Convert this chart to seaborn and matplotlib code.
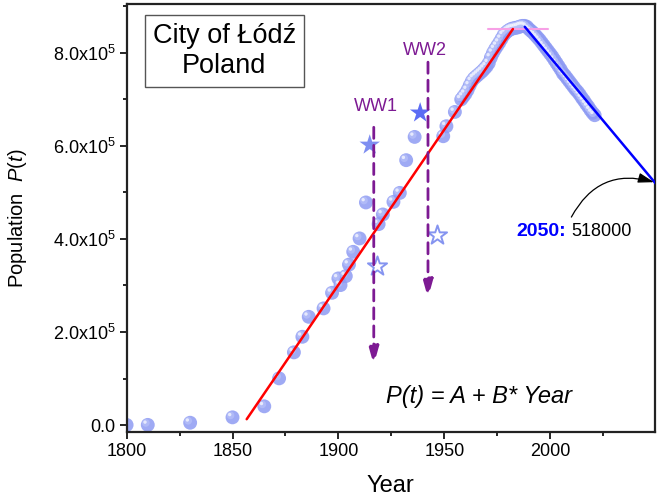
import matplotlib as mpl
import matplotlib.pyplot as plt
import matplotlib.transforms as mtransforms
import numpy as np
import pandas as pd
import seaborn as sns

# census points (year, population)
years = [1800, 1810, 1830, 1850, 1865, 1872, 1879, 1883, 1886, 1893, 1897, 1900,
         1901, 1903.5, 1905, 1907, 1910, 1913, 1919, 1921, 1926, 1929, 1932, 1936,
         1949.5, 1951, 1955,
         1958, 1959, 1960, 1961, 1962, 1963, 1964, 1965, 1966, 1967, 1968, 1969,
         1970, 1971, 1972, 1973, 1974, 1975, 1976, 1977, 1978, 1979, 1980, 1981,
         1982, 1983, 1984, 1985, 1986, 1987, 1988, 1989, 1990, 1991, 1992, 1993,
         1994, 1995, 1996, 1997, 1998, 1999, 2000, 2001, 2002, 2003, 2004, 2005,
         2006, 2007, 2008, 2009, 2010, 2011, 2012, 2013, 2014, 2015, 2016, 2017,
         2018, 2019, 2020, 2021]
population = [200, 300, 4900, 16500, 40200, 100300, 156200, 189700, 232600, 250700,
              284200, 315100, 300800, 320100, 344800, 372300, 401100, 478400, 431800,
              452600, 479700, 499000, 569300, 619300, 620800, 642300, 673000,
              700000, 706000, 712000, 720000, 730000, 739000, 745000, 749000, 753000,
              757000, 761000, 766000, 771000, 778000, 790000, 800000, 808000, 815000,
              822000, 830000, 838000, 843000, 847000, 850000, 852000, 853000, 854000,
              855000, 857000, 858000, 858000, 856000, 851000, 847000, 843000, 838000,
              833000, 828000, 822000, 816000, 810000, 804000, 798000, 792000, 785000,
              778000, 771000, 764000, 756000, 751000, 745000, 739000, 733000, 727000,
              721000, 716000, 710000, 703000, 697000, 690000, 684000, 677000, 671000,
              666000]

# war-time values
war_years = [1914.8, 1938.6]
war_high = [602000, 671000]
war_low_years = [1918, 1946.4]
war_low = [342600, 408000]
war_labels = ["WW1", "WW2"]
label_years = [1917.5, 1941]
label_levels = [684000, 806000]
arrow_years = [1916.7, 1942.3]
arrow_top = [640000, 780000]
arrow_bottom = [129000, 273000]

# linear fits P(t) = A + B*Year
growth_A, growth_B = -12375400, 6672
growth_span = [1856.7, 1982.4]
decline_A, decline_B = 11693800, -5451.6
decline_span = [1988, 2050]
peak_level = 851000
peak_span = [1970.6, 1999]
forecast_year, forecast_value = 2050, 518000

df = pd.DataFrame({"Year": years, "P": population})

sns.set_theme(style="ticks")
plt.rcParams["font.family"] = ["Liberation Sans", "DejaVu Sans"]
plt.rcParams["mathtext.fontset"] = "custom"
plt.rcParams["mathtext.rm"] = "Liberation Sans"
plt.rcParams["mathtext.it"] = "Liberation Sans:italic"
for key in ["text.color", "axes.labelcolor", "xtick.color", "ytick.color"]:
    plt.rcParams[key] = "black"

fig = plt.figure(figsize=(6.57, 5.0), dpi=100)
ax = fig.add_axes([0.1927, 0.136, 0.8043, 0.856])

# sphere-like markers: base + highlight
sns.scatterplot(data=df, x="Year", y="P", s=100, color="#8E9BF3", alpha=0.85,
                edgecolor="none", ax=ax, zorder=2)
hl = mtransforms.offset_copy(ax.transData, fig=fig, x=-1.4, y=1.4, units="points")
ax.scatter(df.Year, df.P, s=30, color="#B8C2F9", alpha=0.7, edgecolor="none",
           transform=hl, zorder=2)
hl2 = mtransforms.offset_copy(ax.transData, fig=fig, x=-2.0, y=2.0, units="points")
ax.scatter(df.Year, df.P, s=6, color="#F4F6FF", alpha=0.8, edgecolor="none",
           transform=hl2, zorder=2)

# stars
ax.scatter(war_years[:1], war_high[:1], marker="*", s=240, color="#7E8EF1",
           edgecolor="none", zorder=3)
ax.scatter(war_years[1:], war_high[1:], marker="*", s=240, color="#5C6CF4",
           edgecolor="none", zorder=3)
ax.scatter(war_low_years, war_low, marker="*", s=210, facecolor="white",
           edgecolor="#8594F0", linewidth=1.4, zorder=3)

# fit lines
gx = np.array(growth_span)
sns.lineplot(x=gx, y=growth_A + growth_B * gx, color="red", linewidth=1.8, ax=ax,
             zorder=4)
dx = np.array(decline_span)
sns.lineplot(x=dx, y=decline_A + decline_B * dx, color="blue", linewidth=1.8, ax=ax,
             zorder=4)
ax.plot(peak_span, [peak_level, peak_level], color="#F7A0E6", linewidth=1.5, zorder=3)

# war arrows
for xa, top, bot in zip(arrow_years, arrow_top, arrow_bottom):
    ax.annotate("", xy=(xa, bot), xytext=(xa, top),
                arrowprops=dict(arrowstyle="-|>,head_length=0.9,head_width=0.25",
                                color="#7D1A93", linewidth=2,
                                linestyle=(0, (4, 2.5)), shrinkA=0, shrinkB=0),
                zorder=5)
for lx, ly, lab in zip(label_years, label_levels, war_labels):
    ax.text(lx, ly, lab, color="#7D1A93", fontsize=13, ha="center", va="center")

# forecast annotation
ax.annotate("", xy=(forecast_year - 1, forecast_value + 4000), xytext=(2010, 447000),
            arrowprops=dict(arrowstyle="-|>,head_length=0.8,head_width=0.25",
                            color="black", linewidth=0.9,
                            connectionstyle="arc3,rad=-0.4", shrinkA=0, shrinkB=0),
            zorder=5)
ax.text(2007.3, 417000, f"{forecast_year}:", color="blue", fontsize=14,
        fontweight="bold", ha="right", va="center")
ax.text(2010.1, 417000, f"{forecast_value}", color="black", fontsize=13,
        ha="left", va="center")

ax.text(0.185, 0.89, "City of Łódź\nPoland", transform=ax.transAxes, fontsize=19.5,
        ha="center", va="center", linespacing=1.2,
        bbox=dict(boxstyle="square,pad=0.3", facecolor="white", edgecolor="#555555",
                  linewidth=1))
ax.text(1966.3, 62000, "P(t) = A + B* Year", fontsize=17, style="italic",
        ha="center", va="center")

ax.set_xlim(1800, 2049.5)
ax.set_ylim(-15000, 905000)
ax.xaxis.set_major_locator(mpl.ticker.MultipleLocator(50))
ax.xaxis.set_minor_locator(mpl.ticker.MultipleLocator(25))
ax.yaxis.set_major_locator(mpl.ticker.MultipleLocator(200000))
ax.yaxis.set_minor_locator(mpl.ticker.MultipleLocator(100000))


@mpl.ticker.FuncFormatter
def sci_label(y, pos):
    if y == 0:
        return "0.0"
    return f"{y / 1e5:.1f}x10$^5$"


ax.yaxis.set_major_formatter(sci_label)
ax.tick_params(which="major", direction="out", length=5, width=1.2, labelsize=13,
               color="black", labelcolor="black", pad=3)
ax.tick_params(which="minor", direction="out", length=3, width=1.2, color="black")
for sp in ax.spines.values():
    sp.set_visible(True)
    sp.set_linewidth(1.6)
    sp.set_color("#222222")

ax.set_xlabel("Year", fontsize=17, labelpad=11)
ax.set_ylabel("Population  $\\it{P(t)}$", fontsize=14.5, labelpad=17)

fig.savefig("out.png", dpi=100)
